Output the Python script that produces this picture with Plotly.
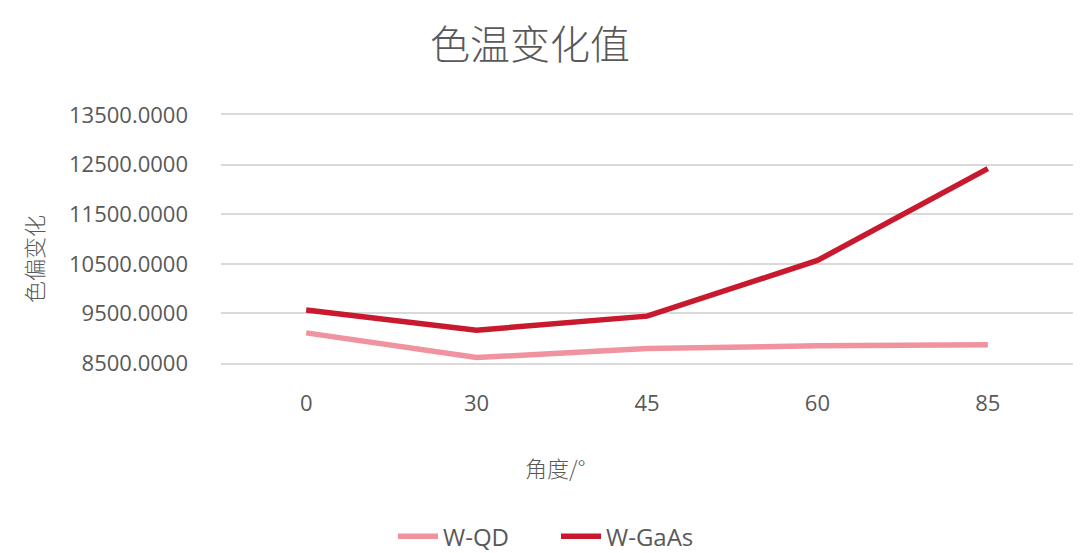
import plotly.graph_objects as go

# data
angles = ["0", "30", "45", "60", "85"]
w_qd = [9107, 8609, 8791, 8846, 8866]
w_gaas = [9567, 9162, 9445, 10567, 12419]
y_ticks = [8500, 9500, 10500, 11500, 12500, 13500]

LATIN = "Open Sans, Noto Sans, Noto Sans CJK SC, sans-serif"
CJK = "Noto Sans CJK SC, Noto Sans, sans-serif"
GREY = "#595959"

fig = go.Figure()
fig.add_trace(go.Scatter(
    x=angles, y=w_qd, name="W-QD", mode="lines",
    line=dict(color="#F0939F", width=5.5),
))
fig.add_trace(go.Scatter(
    x=angles, y=w_gaas, name="W-GaAs", mode="lines",
    line=dict(color="#C8192F", width=5.5),
))

fig.update_layout(
    width=1080, height=553,
    margin=dict(l=221, r=7, t=115, b=190, autoexpand=False),
    paper_bgcolor="white", plot_bgcolor="white",
    title=dict(
        text="色温变化值", x=530 / 1080, xref="container", xanchor="center",
        y=1 - 45 / 553, yref="container", yanchor="middle",
        font=dict(family=CJK, size=40, color=GREY, weight=300),
    ),
    showlegend=True,
    legend=dict(
        orientation="h", x=(393 - 221) / 852, xanchor="left",
        y=-0.70, yanchor="middle",
        font=dict(family=LATIN, size=24, color=GREY),
        itemwidth=40, entrywidth=108, traceorder="normal",
    ),
)

fig.update_xaxes(
    type="category", range=[-0.5, 4.5], showgrid=False, zeroline=False,
    showline=True, mirror=True, linecolor="#D9D9D9", linewidth=1.5,
    ticks="", ticklabelstandoff=20, automargin=False,
    tickfont=dict(family=LATIN, size=22, color=GREY),
)
fig.update_yaxes(
    range=[8500, 13500], tickvals=y_ticks, tickformat=".4f",
    showgrid=True, gridcolor="#D9D9D9", gridwidth=1.5, zeroline=False,
    ticks="", ticklabelstandoff=32, automargin=False,
    tickfont=dict(family=LATIN, size=22, color=GREY),
)

# axis titles placed like the original
fig.add_annotation(
    text="色偏变化", xref="paper", yref="paper", x=(33 - 221) / 852,
    y=(363 - 259) / 248, textangle=-90, showarrow=False,
    xanchor="center", yanchor="middle",
    font=dict(family=CJK, size=22, color=GREY, weight=300),
)
fig.add_annotation(
    text="角度/°", xref="paper", yref="paper", x=(555 - 221) / 852,
    y=-(467 - 363) / 248, showarrow=False,
    xanchor="center", yanchor="middle",
    font=dict(family=CJK, size=22, color=GREY, weight=300),
)

# drop the browser's default 8px body margin so the chart fills the window
fig.write_html(
    "out.html",
    config={"displayModeBar": False},
    post_script="document.body.style.margin='0';",
)
